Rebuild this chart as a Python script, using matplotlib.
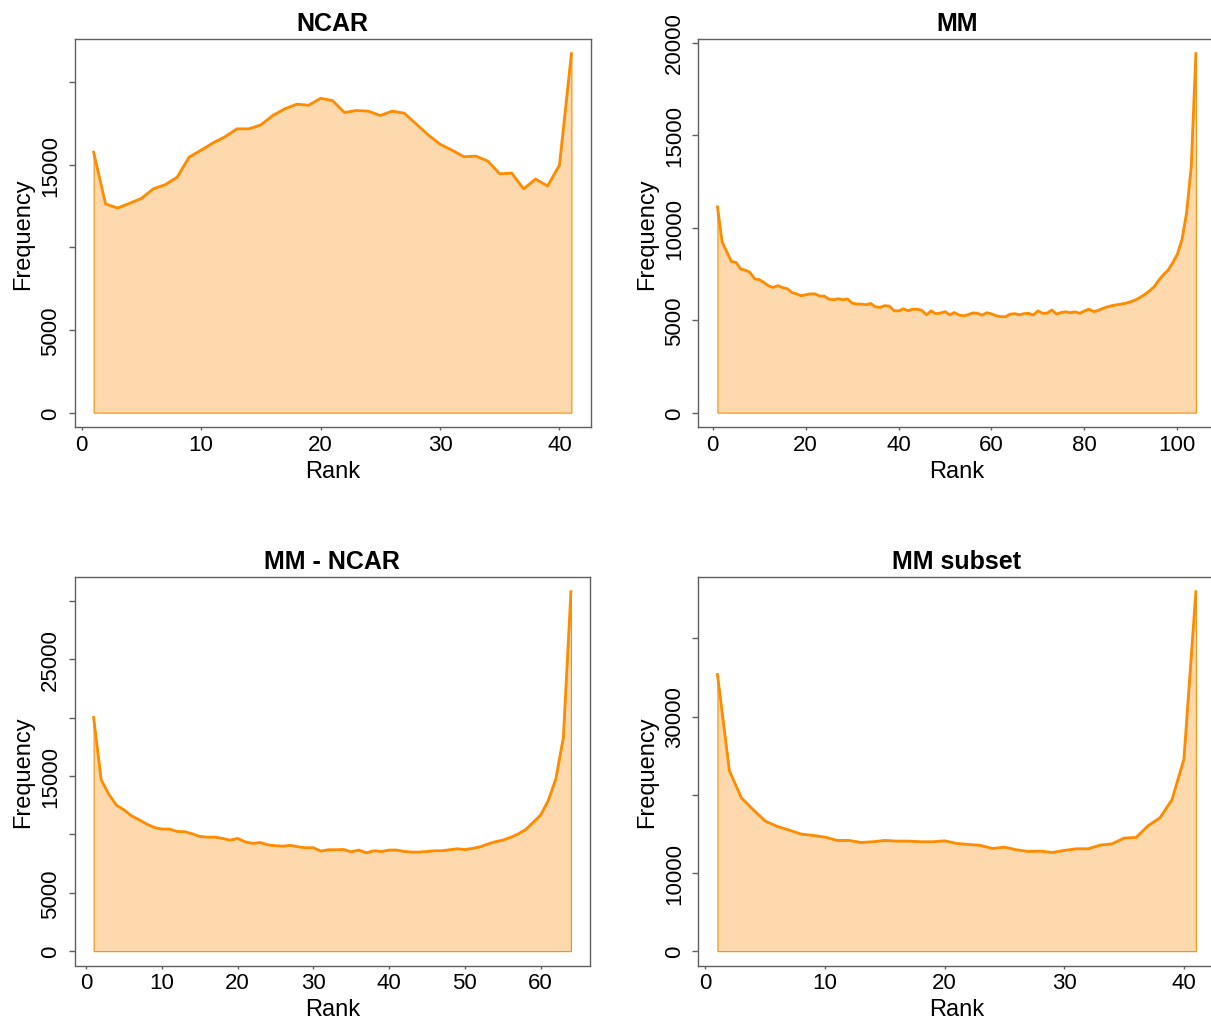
import numpy as np
import matplotlib
matplotlib.use("Agg")
import matplotlib.pyplot as plt

plt.rcParams['font.family'] = ['Liberation Sans', 'DejaVu Sans']

# rank histogram counts
ncar_counts = [15770, 12630, 12390, 12670, 12970, 13550, 13800, 14260, 15470, 15890,
               16330, 16700, 17180, 17180, 17420, 17990, 18390, 18670, 18610, 19030,
               18890, 18170, 18290, 18250, 17990, 18250, 18130, 17480, 16820, 16250,
               15890, 15490, 15530, 15230, 14460, 14500, 13550, 14140, 13720, 14980,
               21730]

mm_counts = [11120, 9230, 8700, 8170, 8120, 7760, 7700, 7580, 7230, 7190,
             7040, 6850, 6770, 6860, 6760, 6700, 6500, 6420, 6320, 6370,
             6420, 6420, 6300, 6300, 6140, 6100, 6160, 6100, 6150, 5920,
             5870, 5870, 5830, 5900, 5720, 5690, 5780, 5760, 5510, 5500,
             5610, 5510, 5590, 5590, 5530, 5290, 5500, 5350, 5380, 5460,
             5290, 5410, 5280, 5230, 5300, 5390, 5370, 5270, 5400, 5340,
             5240, 5190, 5180, 5320, 5350, 5290, 5350, 5370, 5280, 5500,
             5370, 5380, 5550, 5330, 5410, 5450, 5400, 5450, 5370, 5500,
             5590, 5460, 5530, 5640, 5720, 5790, 5830, 5870, 5920, 6000,
             6090, 6230, 6390, 6580, 6800, 7150, 7450, 7700, 8100, 8550,
             9350, 10800, 13300, 19400]

mm_ncar_counts = [20030, 14680, 13450, 12510, 12110, 11600, 11260, 10890, 10600, 10460,
                  10460, 10260, 10230, 10060, 9830, 9770, 9770, 9660, 9510, 9660,
                  9370, 9230, 9310, 9110, 9030, 9000, 9060, 8940, 8860, 8860,
                  8570, 8690, 8690, 8710, 8510, 8660, 8430, 8600, 8540, 8660,
                  8660, 8540, 8490, 8490, 8540, 8600, 8600, 8690, 8770, 8710,
                  8800, 8940, 9170, 9370, 9510, 9740, 10030, 10400, 11030, 11660,
                  12890, 14740, 18300, 30800]

mm_subset_counts = [35390, 23070, 19610, 18080, 16630, 15950, 15480, 14970, 14800, 14580,
                    14160, 14160, 13900, 13990, 14160, 14070, 14070, 13990, 13990, 14110,
                    13770, 13650, 13520, 13130, 13300, 12960, 12750, 12790, 12620, 12880,
                    13090, 13090, 13560, 13730, 14460, 14540, 16030, 17060, 19360, 24560,
                    45970]

titles = ['NCAR', 'MM', 'MM - NCAR', 'MM subset']
xtick_steps = [10, 20, 10, 10]
ytick_steps = [5000, 5000, 5000, 10000]
# y tick values that R leaves unlabelled because of overlap
hidden_ylabels = [{10000, 20000}, set(), {10000, 20000, 30000}, {20000, 40000}]

line_col = '#ff8c00'
fill_col = '#fdd9ad'
frame_col = '#5f5f5f'

W, H = 1211, 1020
fig = plt.figure(figsize=(W / 100, H / 100), dpi=100)

# axes boxes in pixels: left, top, right, bottom
boxes = [(74.5, 40.3, 590.5, 428.0),
         (698.3, 40.3, 1215.0, 428.0),
         (74.5, 578.3, 590.0, 966.5),
         (698.3, 578.3, 1215.0, 966.5)]

all_counts = [ncar_counts, mm_counts, mm_ncar_counts, mm_subset_counts]

for i, counts in enumerate(all_counts):
    l, t, r, b = boxes[i]
    ax = fig.add_axes([l / W, 1 - b / H, (r - l) / W, (b - t) / H])
    counts = np.array(counts)
    ranks = np.arange(1, len(counts) + 1)

    ax.fill_between(ranks, counts, 0, facecolor=fill_col, edgecolor=line_col, linewidth=0.8)
    ax.plot(ranks, counts, color=line_col, linewidth=2.0)
    ax.margins(0.04)

    xmax = len(counts)
    ax.set_xticks(np.arange(0, xmax + 1, xtick_steps[i]))
    ytop = ax.get_ylim()[1]
    yt = np.arange(0, ytop, ytick_steps[i])
    ax.set_yticks(yt)
    ax.set_yticklabels(['' if v in hidden_ylabels[i] else str(int(v)) for v in yt])

    for s in ax.spines.values():
        s.set_color(frame_col)
        s.set_linewidth(1.0)
    ax.tick_params(axis='both', colors=frame_col, labelcolor='black',
                   width=1.0, labelsize=16)
    ax.tick_params(axis='x', length=2.5, pad=2.3)
    ax.tick_params(axis='y', length=4.1, pad=5.4, labelrotation=90)
    for lab in ax.get_yticklabels():
        lab.set_va('center')

    ax.set_title(titles[i], fontsize=18, fontweight='bold', pad=7)
    ax.set_xlabel('Rank', fontsize=17)
    ax.set_ylabel('Frequency', fontsize=17)
    wpx, hpx = r - l, b - t
    ax.xaxis.set_label_coords(0.5, -32.5 / hpx)
    ax.yaxis.set_label_coords(-40.0 / wpx, 0.5)

fig.savefig('out.png', dpi=100)
